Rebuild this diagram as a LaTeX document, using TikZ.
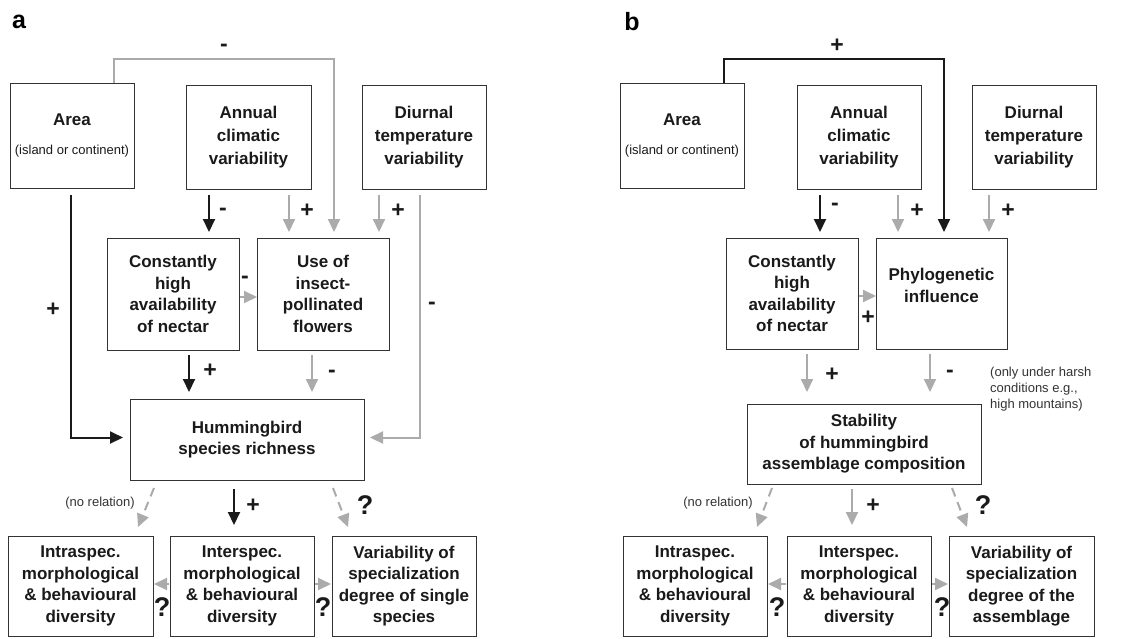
\documentclass[tikz,border=0pt]{standalone}
\usepackage{fontspec}
\setmainfont{Liberation Sans}
\usetikzlibrary{arrows.meta,calc}
\definecolor{lg}{HTML}{ABABAB}
\definecolor{dk}{HTML}{1A1A1A}
\begin{document}
\begin{tikzpicture}[x=1pt,y=-1pt,
 box/.style={draw=black!80,line width=0.9pt,inner sep=0pt,outer sep=0pt,align=center,font=\bfseries\fontsize{17}{21.5}\selectfont,text=dk},
 garr/.style={draw=lg,line width=2pt,-{Triangle[length=13pt,width=12pt]}},
 barr/.style={draw=dk,line width=2pt,-{Triangle[length=13pt,width=12pt]}},
 dsh/.style={dash pattern=on 9pt off 6pt},
 sgn/.style={font=\bfseries\fontsize{23}{23}\selectfont,text=dk,inner sep=0pt},
 qm/.style={font=\bfseries\fontsize{27}{27}\selectfont,text=dk,inner sep=0pt},
 note/.style={font=\fontsize{13}{16}\selectfont,text=black!80,inner sep=0pt},
 panel/.style={font=\bfseries\fontsize{25}{25}\selectfont,inner sep=0pt}]
\useasboundingbox[fill=white] (0,0) rectangle (1145,638);

% ---------------- panel a ----------------
\node[panel] (pa) at (19,22) {a};
\node[box,minimum width=124,minimum height=105] (area) at (72,135.5) {Area\\[8pt]{\mdseries\fontsize{13}{15}\selectfont (island or continent)}};
\node[box,minimum width=125,minimum height=104,font=\bfseries\fontsize{17}{23}\selectfont] (ann) at (248.5,137) {Annual\\climatic\\variability};
\node[box,minimum width=124,minimum height=104,font=\bfseries\fontsize{17}{23}\selectfont] (diu) at (424,137) {Diurnal\\temperature\\variability};
\node[box,minimum width=132,minimum height=112] (const) at (173,294) {Constantly\\high\\availability\\of nectar};
\node[box,minimum width=132,minimum height=112] (use) at (323,294) {Use of\\insect-\\pollinated\\flowers};
\node[box,minimum width=234,minimum height=81] (hum) at (247,439.5) {Hummingbird\\species richness};
\node[box,minimum width=145,minimum height=100] (intra) at (80.5,586) {Intraspec.\\morphological\\\& behavioural\\diversity};
\node[box,minimum width=144,minimum height=100] (inter) at (242,586) {Interspec.\\morphological\\\& behavioural\\diversity};
\node[box,minimum width=144,minimum height=100] (var) at (404,586) {Variability of\\specialization\\degree of single\\species};

\draw[garr] ($(area.north)+(42,0)$) -- ++(0,-24) -| ($(use.north)+(11,-6)$);
\node[sgn] (a1) at (224,48) {-};
\draw[barr] ($(area.south)+(-1,7)$) |- ($(hum.west)+(-7,-2)$);
\node[sgn] (a2) at (53,310) {+};
\draw[barr] ($(ann.south)+(-39.5,6)$) -- ($(const.north)+(36,-6)$);
\node[sgn] (a3) at (223,212) {-};
\draw[garr] ($(ann.south)+(40.5,6)$) -- ($(use.north)+(-34,-6)$);
\node[sgn] (a4) at (307,211) {+};
\draw[garr] ($(diu.south)+(-45,6)$) -- ($(use.north)+(56,-6)$);
\node[sgn] (a5) at (398,211) {+};
\draw[garr] ($(diu.south)+(-4,6)$) |- ($(hum.east)+(6,-2)$);
\node[sgn] (a6) at (432,306) {-};
\draw[garr] ($(const.east)+(1,3)$) -- ($(use.west)+(0,3)$);
\node[sgn] (a7) at (245,280) {-};
\draw[barr] ($(const.south)+(16,5)$) -- ($(hum.north)+(-58,-7)$);
\node[sgn] (a8) at (210,371) {+};
\draw[garr] ($(use.south)+(-11,5)$) -- ($(hum.north)+(65,-7)$);
\node[sgn] (a9) at (332,374) {-};
\draw[garr,dsh] ($(hum.south)+(-93,8)$) -- ($(intra.north)+(57.5,-9)$);
\node[note] (a10) at (100,503) {(no relation)};
\draw[barr] ($(hum.south)+(-13,9)$) -- ($(inter.north)+(-8,-11)$);
\node[sgn] (a11) at (253,506) {+};
\draw[garr,dsh] ($(hum.south)+(86,8)$) -- ($(var.north)+(-56,-9)$);
\node[qm] (a12) at (365,505) {?};
\draw[garr] ($(inter.west)+(-1,-2)$) -- ($(intra.east)+(1,-2)$);
\node[qm] (a13) at (162,607) {?};
\draw[garr] ($(inter.east)+(1,-2)$) -- ($(var.west)+(-1,-2)$);
\node[qm] (a14) at (323,607) {?};

% ---------------- panel b ----------------
\node[panel] (pb) at (632,22) {b};
\node[box,minimum width=124,minimum height=105] (areaB) at (682,135.5) {Area\\[8pt]{\mdseries\fontsize{13}{15}\selectfont (island or continent)}};
\node[box,minimum width=124,minimum height=104,font=\bfseries\fontsize{17}{23}\selectfont] (annB) at (859,137) {Annual\\climatic\\variability};
\node[box,minimum width=124,minimum height=104,font=\bfseries\fontsize{17}{23}\selectfont] (diuB) at (1034,137) {Diurnal\\temperature\\variability};
\node[box,minimum width=132,minimum height=111] (constB) at (792,293.5) {Constantly\\high\\availability\\of nectar};
\node[box,minimum width=131,minimum height=111] (phyB) at (941.5,293.5) {};
\node[box,draw=none] (phyT) at ($(phyB.center)+(0,-8)$) {Phylogenetic\\influence};
\node[box,minimum width=234,minimum height=80] (stabB) at (864,444) {Stability\\of hummingbird\\assemblage composition};
\node[box,minimum width=144,minimum height=100] (intraB) at (695,586) {Intraspec.\\morphological\\\& behavioural\\diversity};
\node[box,minimum width=144,minimum height=100] (interB) at (859,586) {Interspec.\\morphological\\\& behavioural\\diversity};
\node[box,minimum width=145,minimum height=100] (varB) at (1021.5,586) {Variability of\\specialization\\degree of the\\assemblage};

\draw[barr] ($(areaB.north)+(42,0)$) -- ++(0,-24) -| ($(phyB.north)+(2.5,-6)$);
\node[sgn] (b1) at (837,46) {+};
\draw[barr] ($(annB.south)+(-39,6)$) -- ($(constB.north)+(28,-6)$);
\node[sgn] (b2) at (835,207) {-};
\draw[garr] ($(annB.south)+(39,6)$) -- ($(phyB.north)+(-43.5,-6)$);
\node[sgn] (b3) at (917,211) {+};
\draw[garr] ($(diuB.south)+(-45,6)$) -- ($(phyB.north)+(47.5,-6)$);
\node[sgn] (b4) at (1008,211) {+};
\draw[garr] ($(constB.east)+(1,2.5)$) -- ($(phyB.west)+(0,2.5)$);
\node[sgn] (b5) at (868,318) {+};
\draw[garr] ($(constB.south)+(15,5)$) -- ($(stabB.north)+(-57,-12)$);
\node[sgn] (b6) at (832,375) {+};
\draw[garr] ($(phyB.south)+(-11.5,5)$) -- ($(stabB.north)+(66,-12)$);
\node[sgn] (b7) at (950,374) {-};
\node[note,align=left,anchor=west] (bn) at (990,389) {(only under harsh\\conditions e.g.,\\high mountains)};
\draw[garr,dsh] ($(stabB.south)+(-92,4)$) -- ($(intraB.north)+(62,-9)$);
\node[note] (b8) at (718,503) {(no relation)};
\draw[garr] ($(stabB.south)+(-12,5)$) -- ($(interB.north)+(-7,-11)$);
\node[sgn] (b9) at (873,506) {+};
\draw[garr,dsh] ($(stabB.south)+(88,4)$) -- ($(varB.north)+(-54.5,-9)$);
\node[qm] (b10) at (983,505) {?};
\draw[garr] ($(interB.west)+(-1,-2)$) -- ($(intraB.east)+(1,-2)$);
\node[qm] (b11) at (777,607) {?};
\draw[garr] ($(interB.east)+(1,-2)$) -- ($(varB.west)+(-1,-2)$);
\node[qm] (b12) at (942,607) {?};
\end{tikzpicture}
\end{document}
